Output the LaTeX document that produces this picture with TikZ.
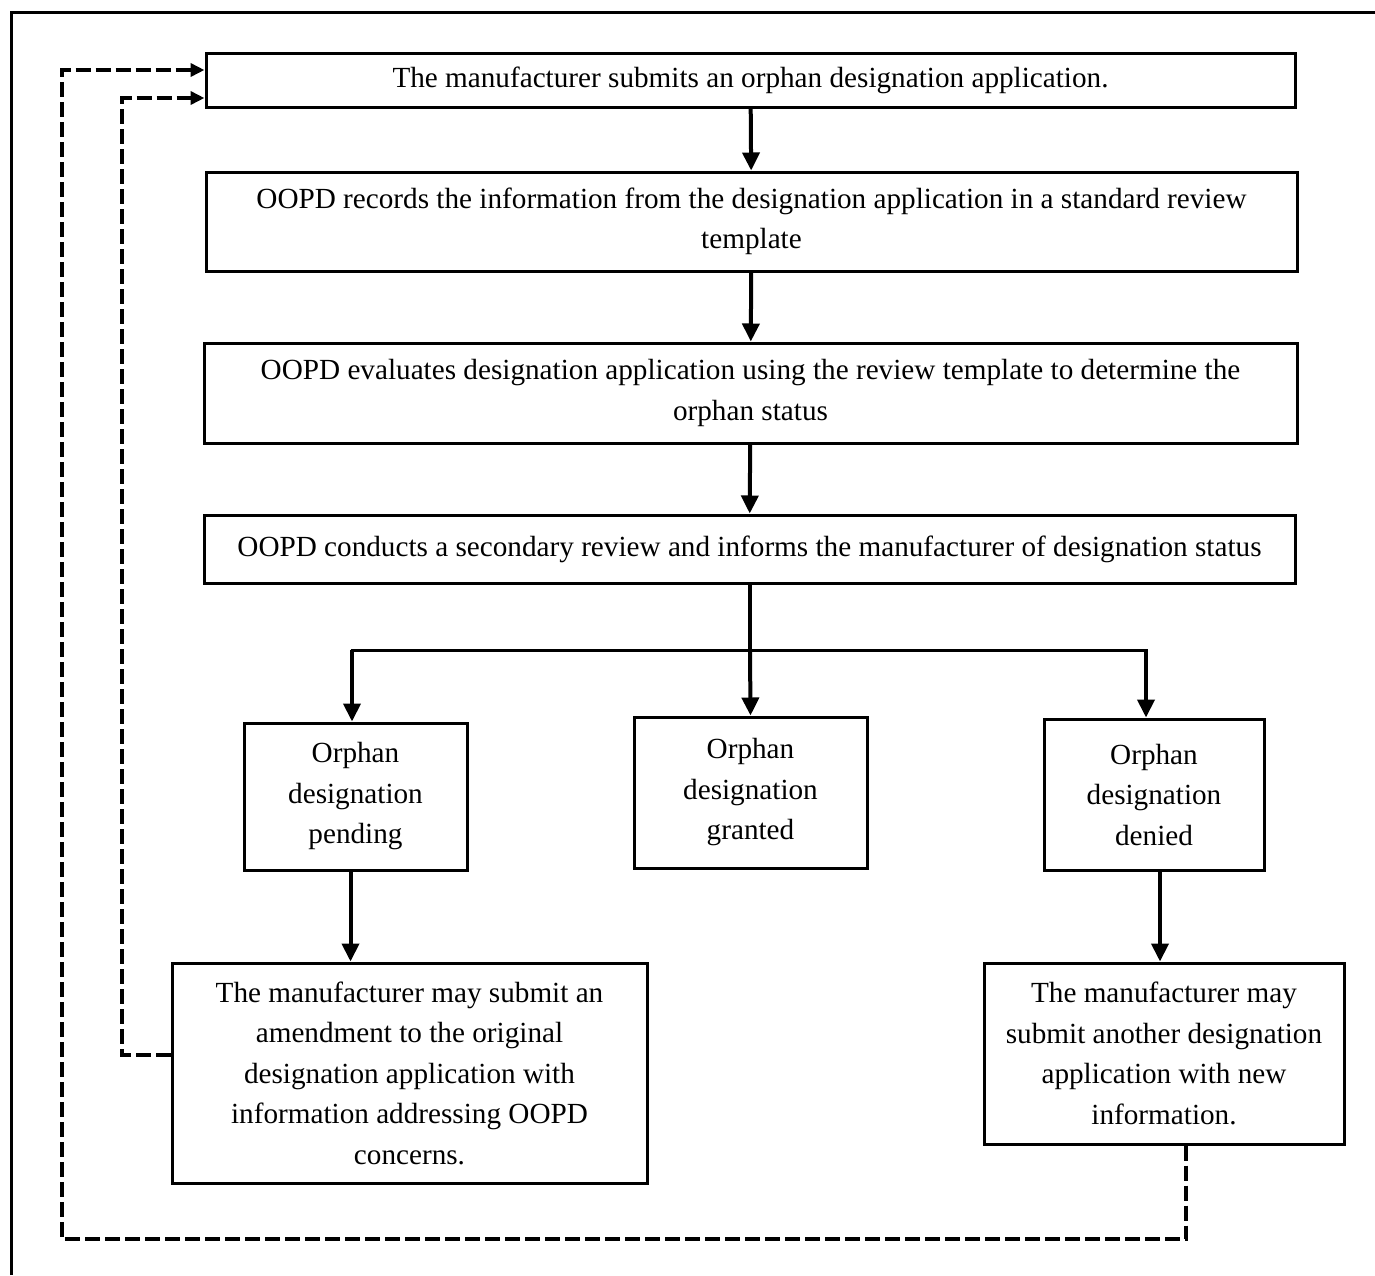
\documentclass[tikz,border=0pt]{standalone}
\usepackage{fontspec}
\setmainfont{Liberation Serif}
\usetikzlibrary{arrows.meta}
\begin{document}
\begin{tikzpicture}[x=1pt,y=-1pt,
  box/.style={draw,line width=3pt,align=center,inner sep=0pt,font=\fontsize{29.2}{40.5}\selectfont},
  arr/.style={line width=4pt,-{Triangle[length=18pt,width=17pt]}},
  dsh/.style={line width=4pt,dash pattern=on 15pt off 5pt,-{Triangle[length=14pt,width=13pt]}}]
\useasboundingbox (0,0) rectangle (1375,1275);
\draw[line width=3pt] (11,1275) -- (11,12) -- (1375,12);
\node[box,minimum width=1089pt,minimum height=54pt] (b1) at (750.5,80) {The manufacturer submits an orphan designation application.};
\node[box,minimum width=1091pt,minimum height=99pt] (b2) at (751.5,221.5) {OOPD records the information from the designation application in a standard review\\template};
\node[box,minimum width=1093pt,minimum height=100pt] (b3) at (750.5,393) {OOPD evaluates designation application using the review template to determine the\\orphan status};
\node[box,minimum width=1091pt,minimum height=68pt] (b4) at (749.5,549) {OOPD conducts a secondary review and informs the manufacturer of designation status};
\node[box,minimum width=223pt,minimum height=147pt] (b5) at (355.5,796.5) {Orphan\\designation\\pending};
\node[box,minimum width=233pt,minimum height=151pt] (b6) at (750.5,792.5) {Orphan\\designation\\granted};
\node[box,minimum width=220pt,minimum height=151pt] (b7) at (1154,794.5) {Orphan\\designation\\denied};
\node[box,minimum width=475pt,minimum height=220pt] (b8) at (409.5,1073) {The manufacturer may submit an\\amendment to the original\\designation application with\\information addressing OOPD\\concerns.};
\node[box,minimum width=360pt,minimum height=181pt] (b9) at (1164,1053.5) {The manufacturer may\\submit another designation\\application with new\\information.};
\coordinate (sp) at (750,650);
\coordinate (lp) at ([xshift=-3.5pt]sp -| b5.north);
\coordinate (rp) at ([xshift=-8pt]sp -| b7.north);
\draw[arr] (b1) -- (b2);
\draw[arr] (b2) -- (b3);
\draw[arr] (b3) -- (b4);
\draw[line width=4pt] (b4.south -| sp) -- (sp);
\draw[line width=3pt] ([xshift=-1.5pt]lp) -- ([xshift=1.5pt]rp);
\draw[arr] (sp) -- (b6.north);
\draw[arr] (lp) -- (lp |- b5.north);
\draw[arr] (rp) -- (rp |- b7.north);
\draw[arr] ([xshift=-5pt]b5.south) -- ([xshift=-5pt]b5.south |- b8.north);
\draw[arr] ([xshift=6pt]b7.south) -- ([xshift=6pt]b7.south |- b9.north);
\draw[dsh] ([yshift=18pt]b8.west) -| (122,98) -- ([yshift=-18pt]b1.west);
\draw[dsh] ([xshift=22pt]b9.south) |- (62,1239) |- ([yshift=10pt]b1.west);
\end{tikzpicture}
\end{document}
